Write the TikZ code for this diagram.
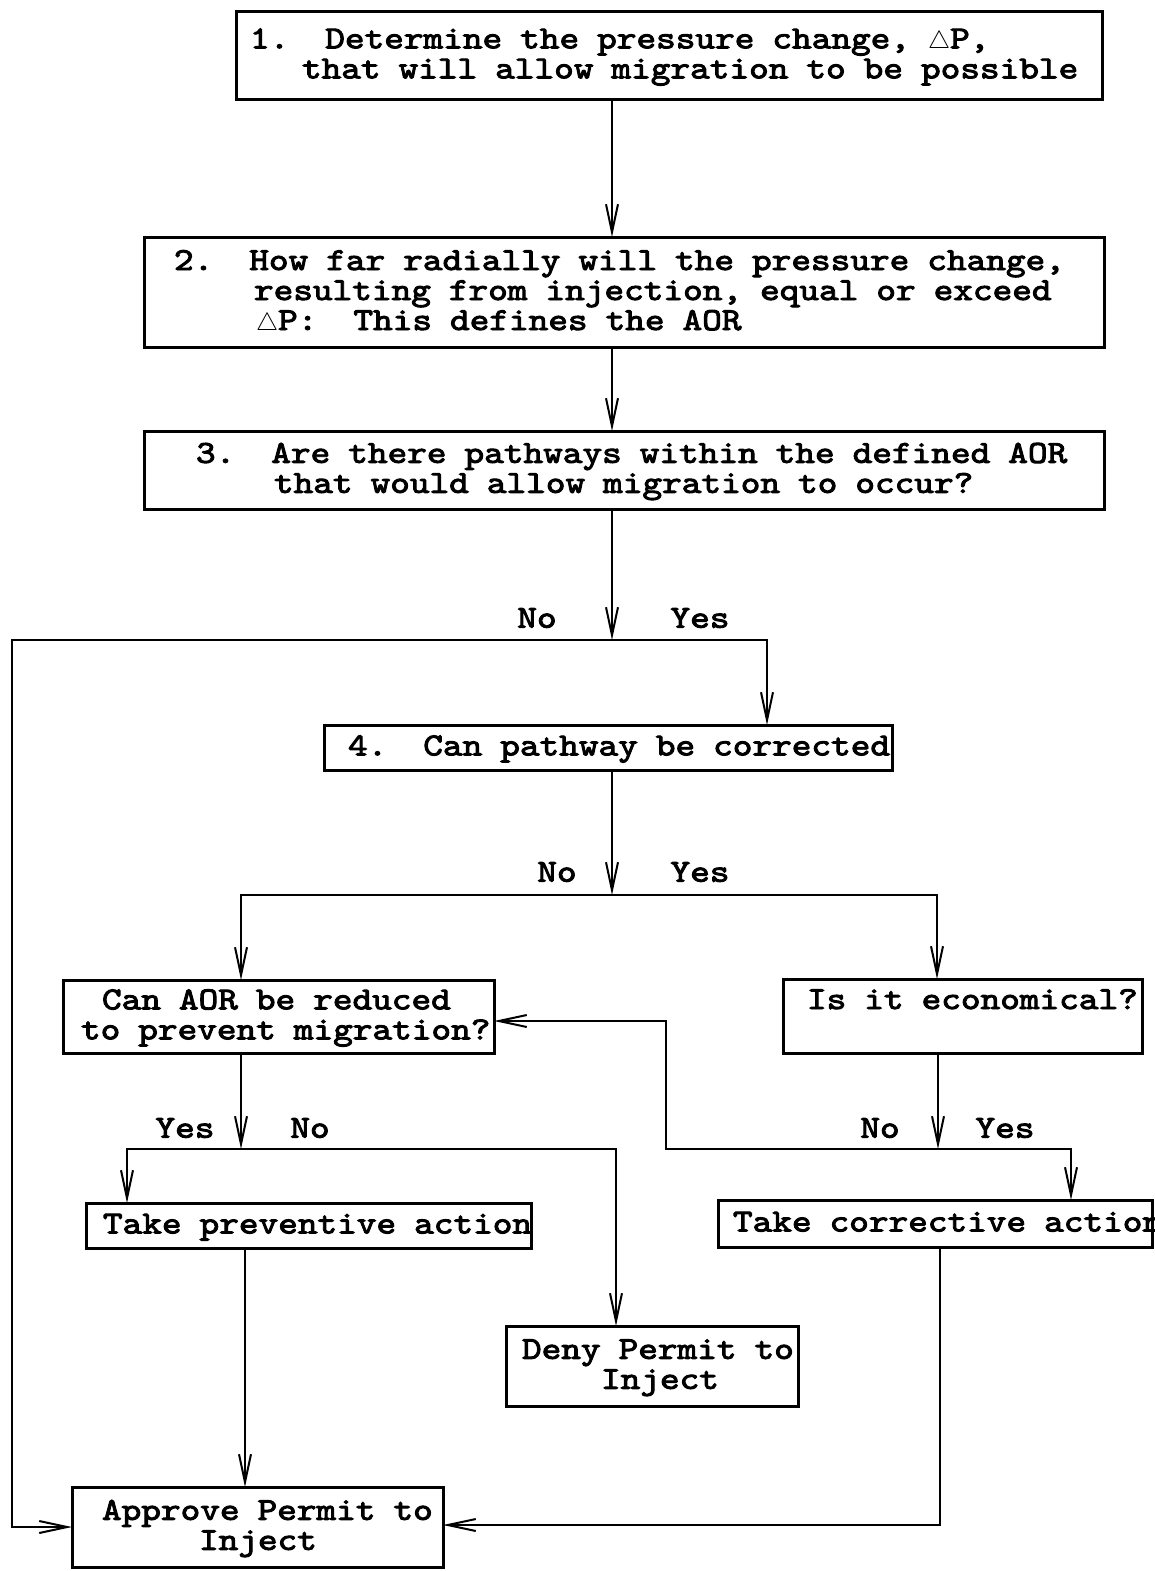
\documentclass[tikz,border=0pt]{standalone}
\usepackage{fontspec}
\newfontfamily\typewr{lmmono10-regular.otf}[FakeStretch=1.17, FakeBold=3]
\usetikzlibrary{arrows.meta}
\newcommand\tup{\rule{0pt}{23pt}}
\newcommand\tdn{\rule[-7pt]{0pt}{7pt}}
\newcommand\oneline[1]{\mbox{#1}}
\newcommand\setsp{\spaceskip=18pt\relax}
\begin{document}
\begin{tikzpicture}[x=1pt,y=-1pt,
 font=\typewr\fontsize{32}{30}\selectfont\frenchspacing,
 box/.style={draw, line width=3pt, anchor=north west, align=left, inner ysep=0pt, outer sep=0pt, execute at begin node=\setsp},
 arr/.style={line width=2pt, -{Straight Barb[length=28pt,width=12pt]}},
 lbl/.style={inner sep=0pt}]
\useasboundingbox (0,0) rectangle (1154,1571);
\node[box, minimum width=866pt, minimum height=87pt, inner xsep=14pt, text width=838pt] (b1) at (236,12)
 {\tup\oneline{1.~~Determine the pressure change, $\triangle$P,}\\\oneline{\hspace*{52pt}that will allow migration to be possible}\tdn};
\node[box, minimum width=960pt, minimum height=110pt, inner xsep=30pt, text width=900pt] (b2) at (144,237)
 {\tup\oneline{2.~~How far radially will the pressure change,}\\\oneline{\hspace*{80pt}resulting from injection, equal or exceed}\\\oneline{\hspace*{82pt}$\triangle$P:~~This defines the AOR}\tdn};
\node[box, minimum width=960pt, minimum height=78pt, inner xsep=52pt, text width=856pt] (b3) at (144,431)
 {\tup\oneline{3.~~Are there pathways within the defined AOR}\\\oneline{\hspace*{78pt}that would allow migration to occur?}\tdn};
\node[box, minimum width=568pt, minimum height=45pt, inner xsep=24pt, text width=520pt] (b4) at (324,725)
 {\tup\oneline{4.~~Can pathway be corrected}\tdn};
\node[box, minimum width=431pt, minimum height=73pt, inner xsep=18pt, text width=395pt] (aor) at (63,980)
 {\tup\oneline{\hspace*{21pt}Can AOR be reduced}\\\oneline{to prevent migration?}\tdn};
\node[box, minimum width=359pt, minimum height=74pt, inner xsep=24pt, text width=311pt] (econ) at (783,979)
 {\tup\oneline{Is it economical?}\\\mbox{}\tdn};
\node[box, minimum width=445pt, minimum height=45pt, inner xsep=17pt, text width=411pt] (prev) at (86,1203)
 {\tup\oneline{Take preventive action}\tdn};
\node[box, execute at begin node={}, minimum width=434pt, minimum height=47pt, inner xsep=15pt, text width=404pt] (corr) at (718,1200)
 {\tup\oneline{Take corrective action}\tdn};
\node[box, minimum width=292pt, minimum height=80pt, inner xsep=16pt, text width=260pt] (deny) at (506,1326)
 {\tup\oneline{Deny Permit to}\\\oneline{\hspace*{79pt}Inject}\tdn};
\node[box, minimum width=371pt, minimum height=80pt, inner xsep=30pt, text width=311pt] (appr) at (72,1487)
 {\tup\oneline{Approve Permit to}\\\oneline{\hspace*{97pt}Inject}\tdn};
% labels
\node[lbl] (n1) at (537,618) {No};
\node[lbl] (y1) at (700,618) {Yes};
\node[lbl] (n2) at (557,872) {No};
\node[lbl] (y2) at (700,872) {Yes};
\node[lbl] (y3) at (185,1128) {Yes};
\node[lbl] (n3) at (310,1128) {No};
\node[lbl] (n4) at (880,1128) {No};
\node[lbl] (y4) at (1005,1128) {Yes};
% junctions
\coordinate (mx) at (612,0);
\coordinate (s1) at (612,640);
\coordinate (s1l) at (12,640);
\coordinate (s1r) at (767,640);
\coordinate (s2) at (612,895);
\coordinate (s2l) at (241,895);
\coordinate (s2r) at (937,895);
\coordinate (s3) at (241,1149);
\coordinate (s3l) at (127,1149);
\coordinate (s3r) at (616,1149);
\coordinate (s4) at (938,1149);
\coordinate (s4l) at (666,1149);
\coordinate (s4r) at (1071,1149);
\coordinate (r1) at (666,1021);
\coordinate (pv) at (245,0);
\coordinate (cv) at (940,1525);
% connectors
\draw[arr] (mx |- b1.south) -- (mx |- b2.north);
\draw[arr] (mx |- b2.south) -- (mx |- b3.north);
\draw[arr] (mx |- b3.south) -- (s1);
\draw[arr] (s1) -- (s1l) |- (appr.west);
\draw[arr] (s1) -- (s1r) -- (s1r |- b4.north);
\draw[arr] (s2 |- b4.south) -- (s2);
\draw[arr] (s2) -- (s2l) -- (s2l |- aor.north);
\draw[arr] (s2) -- (s2r) -- (s2r |- econ.north);
\draw[arr] (s3 |- aor.south) -- (s3);
\draw[arr] (s3) -- (s3l) -- (s3l |- prev.north);
\draw[arr] (s3) -- (s3r) -- (s3r |- deny.north);
\draw[arr] (s4 |- econ.south) -- (s4);
\draw[arr] (s4) -- (s4l) -- (r1) -- (r1 -| aor.east);
\draw[arr] (s4) -- (s4r) -- (s4r |- corr.north);
\draw[arr] (pv |- prev.south) -- (pv |- appr.north);
\draw[arr] (cv |- corr.south) -- (cv) -- (cv -| appr.east);
\end{tikzpicture}
\end{document}
